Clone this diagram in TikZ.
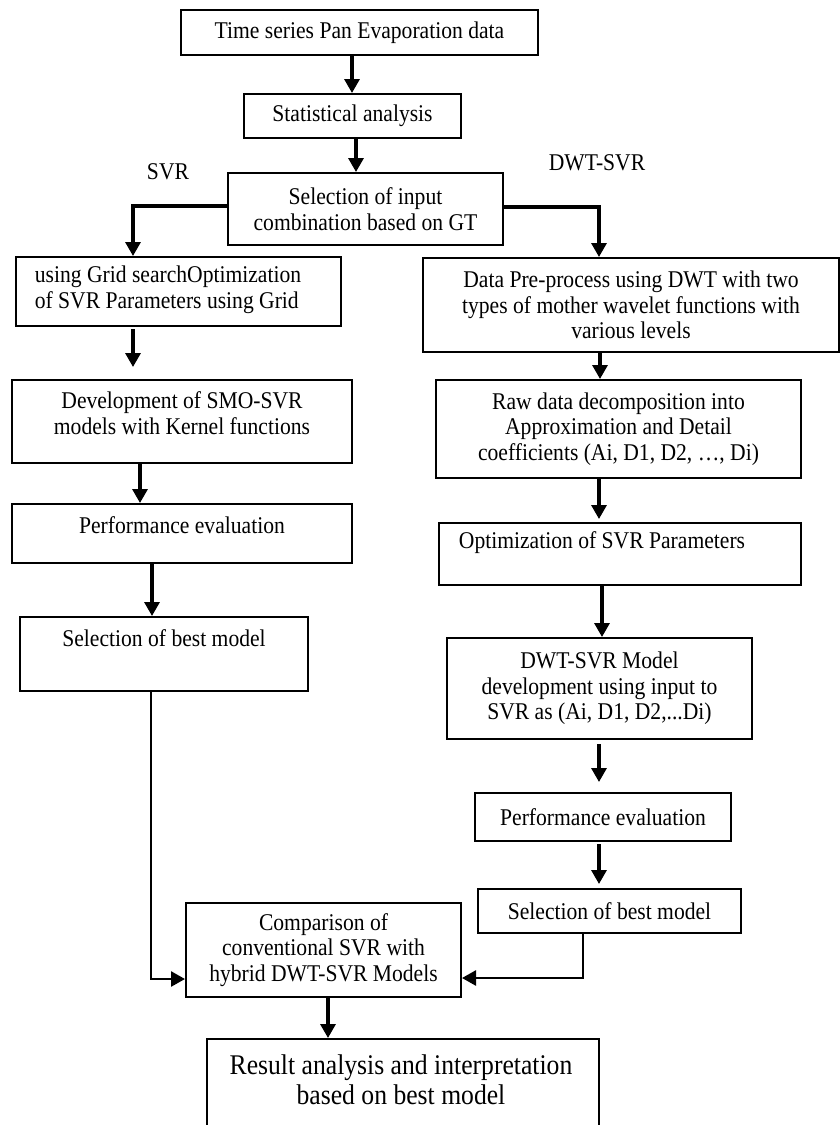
\documentclass[tikz,border=0pt]{standalone}
\usepackage{fontspec}
\setmainfont{Liberation Serif}[FakeStretch=0.9]
\usetikzlibrary{arrows.meta}
\begin{document}
\begin{tikzpicture}[x=1pt,y=-1pt,
  box/.style={draw=black, line width=2pt, rectangle, inner sep=0pt, align=center,
    font=\fontsize{24}{25.5}\selectfont},
  txt/.style={inner sep=0pt, align=center, font=\fontsize{24}{25.5}\selectfont},
  arr/.style={line width=3.2pt, -{Triangle[width=15pt,length=14pt]}},
  arrthin/.style={line width=2.6pt, -{Triangle[width=15pt,length=14pt]}}]
\fill[white] (0,0) rectangle (840,1125);
\useasboundingbox (0,0) rectangle (840,1125);

% top chain
\node[box, minimum width=357pt, minimum height=45pt] (b1) at (359.5,32.5) {Time series Pan Evaporation data};
\node[box, minimum width=217pt, minimum height=44pt] (b2) at (352.5,116) {Statistical analysis};
\node[box, minimum width=275pt, minimum height=72pt] (b3) at (365.5,209) {Selection of input\\combination based on GT};
\node[txt] (lsvr) at (168,172) {SVR};
\node[txt] (ldwt) at (597,163) {DWT-SVR};

% left column
\node[box, minimum width=325pt, minimum height=69pt] (b4) at (178.5,291.5) {};
\node[txt, align=left] (b4t) at (168,290) {using Grid searchOptimization\\of SVR Parameters using Grid};
\node[box, minimum width=340pt, minimum height=83pt] (b5) at (182,421.5) {};
\node[txt] (b5t) at (182,413) {Development of SMO-SVR\\models with Kernel functions};
\node[box, minimum width=340pt, minimum height=59pt] (b6) at (182,533.5) {};
\node[txt] (b6t) at (182,525) {Performance evaluation};
\node[box, minimum width=288pt, minimum height=74pt] (b7) at (164,654) {};
\node[txt] (b7t) at (164,638) {Selection of best model};

% right column
\node[box, minimum width=416pt, minimum height=94pt] (r1) at (631,305) {Data Pre-process using DWT with two\\types of mother wavelet functions with\\various levels};
\node[box, minimum width=365pt, minimum height=98pt] (r2) at (618.5,429) {Raw data decomposition into\\Approximation and Detail\\coefficients (Ai, D1, D2, …, Di)};
\node[box, minimum width=362pt, minimum height=62pt] (r3) at (620,554) {};
\node[txt] (r3t) at (602,543) {Optimization of SVR Parameters};
\node[box, minimum width=305pt, minimum height=101pt] (r4) at (599.5,688.5) {DWT-SVR Model\\development using input to\\SVR as (Ai, D1, D2,...Di)};
\node[box, minimum width=256pt, minimum height=48pt] (r5) at (603,817) {Performance evaluation};
\node[box, minimum width=263pt, minimum height=44pt] (r6) at (609.5,911) {Selection of best model};

% bottom
\node[box, minimum width=275pt, minimum height=94pt] (cmp) at (323.5,950) {Comparison of\\conventional SVR with\\hybrid DWT-SVR Models};
\node[box, minimum width=392pt, minimum height=96pt] (res) at (403,1087) {};
\node[txt, font=\fontsize{28.5}{30}\selectfont] (rest) at (401,1080) {Result analysis and interpretation\\based on best model};

% connectors
\draw[arr] ([xshift=-7.5pt]b1.south) -- ([xshift=-7.5pt]b1.south |- b2.north);
\draw[arr] ([xshift=3.5pt]b2.south) -- ([xshift=3.5pt]b2.south |- b3.north);
\draw[arr] ([yshift=3pt]b3.west) -| ([xshift=-45.5pt]b4.north);
\draw[arr] ([yshift=2pt]b3.east) -| ([xshift=-32pt]r1.north);

\draw[arr, shorten <=2pt, shorten >=12pt] ([xshift=-45.5pt]b4.south) -- ([xshift=-45.5pt]b4.south |- b5.north);
\draw[arr] ([xshift=-42pt]b5.south) -- ([xshift=-42pt]b5.south |- b6.north);
\draw[arr] ([xshift=-30pt]b6.south) -- ([xshift=-30pt]b6.south |- b7.north);
\draw[arrthin] ([xshift=-13pt]b7.south) |- ([yshift=-29pt]cmp.west);

\draw[arr] ([xshift=-31pt]r1.south) -- ([xshift=-31pt]r1.south |- r2.north);
\draw[arr, shorten >=3pt] ([xshift=-19.5pt]r2.south) -- ([xshift=-19.5pt]r2.south |- r3.north);
\draw[arr] ([xshift=-18pt]r3.south) -- ([xshift=-18pt]r3.south |- r4.north);
\draw[arr, shorten <=4pt, shorten >=10pt] ([xshift=-0.5pt]r4.south) -- ([xshift=-0.5pt]r4.south |- r5.north);
\draw[arr, shorten <=2pt, shorten >=4pt] ([xshift=-4pt]r5.south) -- ([xshift=-4pt]r5.south |- r6.north);
\draw[arrthin] ([xshift=-26.5pt]r6.south) |- ([yshift=-28pt]cmp.east);
\draw[arr] ([xshift=4.5pt]cmp.south) -- ([xshift=4.5pt]cmp.south |- res.north);
\end{tikzpicture}
\end{document}
